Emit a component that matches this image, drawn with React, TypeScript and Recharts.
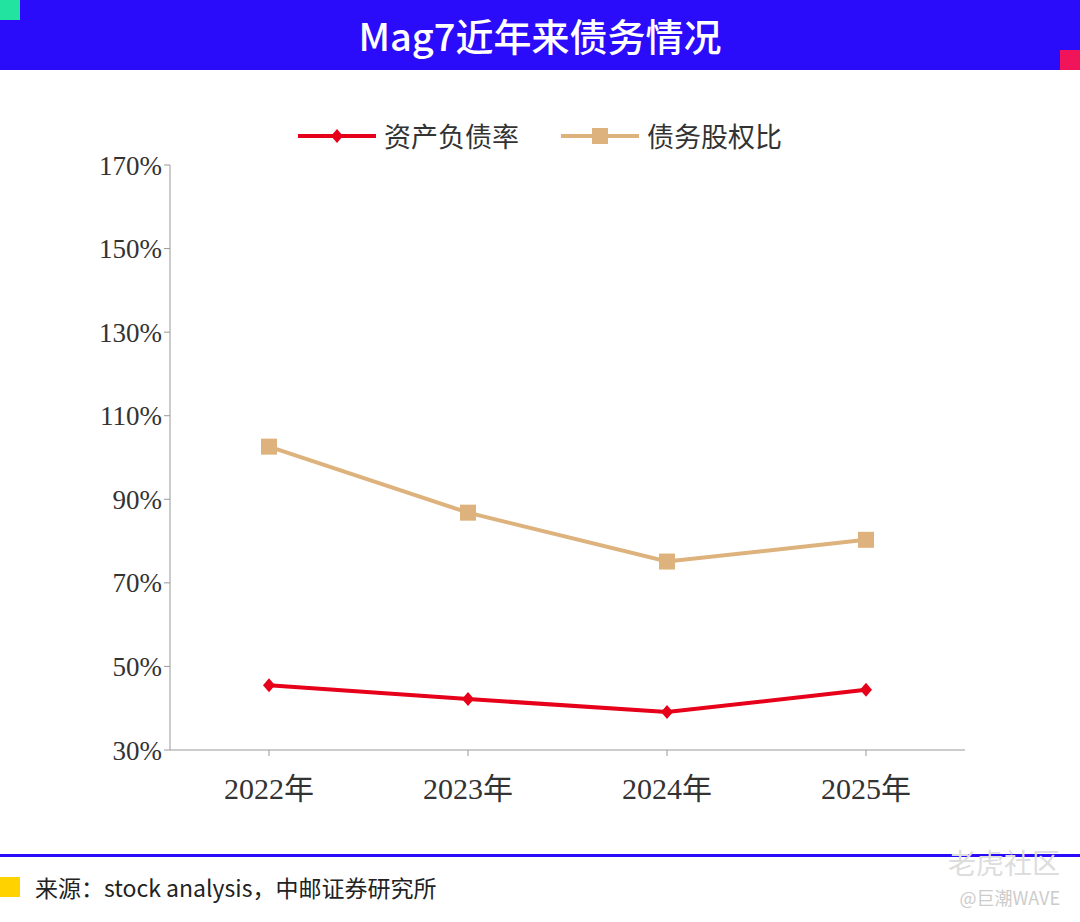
import React from 'react';
import { LineChart, Line, XAxis, YAxis } from 'recharts';

const years = ['2022年', '2023年', '2024年', '2025年'];
const debtToAsset = [45.5, 42.2, 39.1, 44.4];
const debtToEquity = [102.6, 86.8, 75.1, 80.3];
const yTicks = [30, 50, 70, 90, 110, 130, 150, 170];

const RED = '#E60019';
const TAN = '#DDB27C';

const data = years.map((y, i) => ({ year: y, a: debtToAsset[i], b: debtToEquity[i] }));

const Diamond = (p: any) => {
  const { cx, cy } = p;
  if (cx == null) return null;
  return <polygon points={`${cx},${cy - 7} ${cx + 6},${cy} ${cx},${cy + 7} ${cx - 6},${cy}`} fill={RED} />;
};
const Square = (p: any) => {
  const { cx, cy } = p;
  if (cx == null) return null;
  return <rect x={cx - 8} y={cy - 8} width={16} height={16} fill={TAN} />;
};

const serif = '"Liberation Serif", "Noto Sans CJK SC", serif';

const legendItems = [{ c: RED, n: '资产负债率', d: true }, { c: TAN, n: '债务股权比', d: false }];

export default function App() {
  return (
    <div style={{ position: 'fixed', left: 0, top: 0, width: 1080, height: 922, background: '#fff', overflow: 'hidden' }}>
      <div style={{ position: 'absolute', left: 0, top: 0, width: 1080, height: 70, background: '#2A0BFA', color: '#fff', fontFamily: '"Noto Sans CJK SC", sans-serif', fontSize: 38, fontWeight: 500, textAlign: 'center', lineHeight: '70px' }}>
        Mag7近年来债务情况
      </div>
      <div style={{ position: 'absolute', left: 0, top: 0, width: 20, height: 20, background: '#22E3A0' }} />
      <div style={{ position: 'absolute', left: 1060, top: 50, width: 20, height: 20, background: '#F0145A' }} />
      <div style={{ position: 'absolute', left: 0, top: 0 }}>
        <LineChart width={1080} height={922} data={data} margin={{ top: 165, right: 115, bottom: 142, left: 110 }}>
          <XAxis dataKey="year" padding={{ left: 99, right: 99 }} height={30} stroke="#999" tickLine={{ stroke: '#999' }}
            tick={{ fill: '#333', fontSize: 30, fontFamily: serif, dy: 20 }} />
          <YAxis domain={[30, 170]} ticks={yTicks} width={60} stroke="#999" tickSize={6} interval={0}
            tickFormatter={(v: number) => `${v}%`} tick={{ fill: '#333', fontSize: 27, fontFamily: serif }} />
          <Line dataKey="b" stroke={TAN} strokeWidth={4} dot={<Square />} isAnimationActive={false} />
          <Line dataKey="a" stroke={RED} strokeWidth={4} dot={<Diamond />} isAnimationActive={false} />
        </LineChart>
      </div>
      <div style={{ position: 'absolute', left: 0, top: 116, width: 1080, display: 'flex', justifyContent: 'center', gap: 42, fontFamily: '"Noto Sans CJK SC", sans-serif', fontSize: 27, color: '#333' }}>
        {legendItems.map(it => (
          <div key={it.n} style={{ display: 'flex', alignItems: 'center', gap: 8 }}>
            <svg width={78} height={20}>
              <line x1={0} y1={10} x2={78} y2={10} stroke={it.c} strokeWidth={4} />
              {it.d ? <polygon points="39,3 45,10 39,17 33,10" fill={it.c} /> : <rect x={31} y={2} width={16} height={16} fill={it.c} />}
            </svg>
            <span>{it.n}</span>
          </div>
        ))}
      </div>
      <div style={{ position: 'absolute', left: 0, top: 854, width: 1080, height: 3, background: '#2A0BFA' }} />
      <div style={{ position: 'absolute', left: 0, top: 877, width: 20, height: 20, background: '#FFD200' }} />
      <div style={{ position: 'absolute', left: 35, top: 870, fontFamily: '"Noto Sans CJK SC", sans-serif', fontSize: 23, color: '#222' }}>
        来源：stock analysis，中邮证券研究所
      </div>
      <div style={{ position: 'absolute', right: 20, top: 842, fontFamily: '"Noto Sans CJK SC", sans-serif', fontSize: 28, color: '#ddd' }}>老虎社区</div>
      <div style={{ position: 'absolute', right: 20, top: 884, fontFamily: '"Noto Sans CJK SC", sans-serif', fontSize: 18, color: '#ccc' }}>@巨潮WAVE</div>
    </div>
  );
}
